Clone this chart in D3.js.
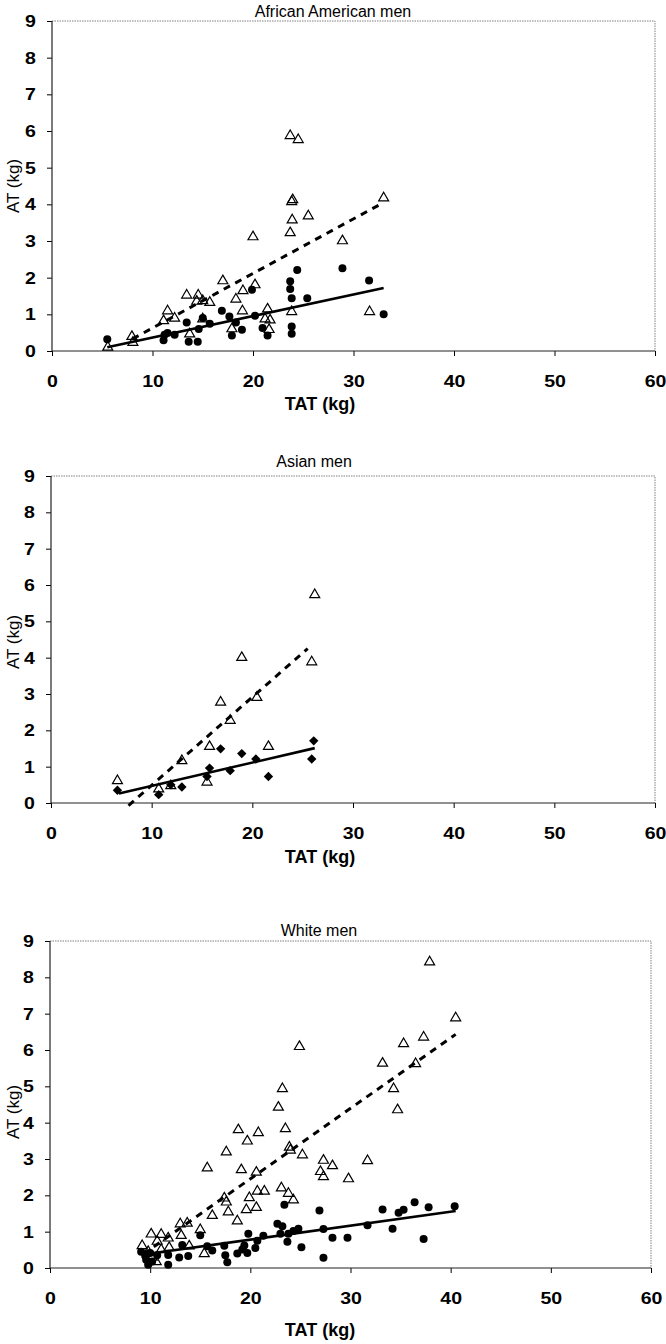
<!DOCTYPE html>
<html>
<head>
<meta charset="utf-8">
<script src="https://cdn.jsdelivr.net/npm/d3@7/dist/d3.min.js"></script>
<style>
  html, body { margin: 0; padding: 0; background: #fff; }
  svg { display: block; }
  text { font-family: "Liberation Sans", Arial, sans-serif; fill: #000; }
</style>
</head>
<body>
<svg id="chart" width="666" height="1344"></svg>
<script>
// ---------------- DATA ----------------
const panelTitles = ["African American men", "Asian men", "White men"];
const xTicks = [0, 10, 20, 30, 40, 50, 60];
const yTicks = [0, 1, 2, 3, 4, 5, 6, 7, 8, 9];
const xLabel = "TAT (kg)";
const yLabel = "AT (kg)";

// African American men: open triangles (dashed fit), filled circles (solid fit)
const aaOpen = [
  [5.55,0.13],[7.95,0.42],[8.05,0.26],[11.5,1.12],[11.1,0.85],[12.2,0.92],[13.4,1.55],
  [13.7,0.49],[14.55,1.55],[14.4,1.38],[15.0,1.40],[15.7,1.35],[15.0,0.90],[17.0,1.94],
  [17.9,0.63],[18.3,1.44],[19.0,1.67],[18.95,1.12],[20.2,1.83],[20.0,3.14],[21.2,0.90],
  [21.45,1.17],[21.7,0.87],[21.6,0.61],[23.85,1.10],[23.7,3.25],[23.9,3.60],[23.85,4.10],
  [23.95,4.15],[25.5,3.71],[28.9,3.03],[31.6,1.10],[23.7,5.90],[24.5,5.79],[33.0,4.20]
];
const aaFilled = [
  [5.5,0.32],[11.2,0.44],[11.1,0.29],[11.5,0.49],[12.2,0.44],[13.4,0.78],[13.6,0.25],
  [14.5,0.25],[14.6,0.60],[15.0,0.90],[15.7,0.74],[16.9,1.10],[17.65,0.94],[17.9,0.42],
  [18.3,0.78],[18.9,0.58],[19.9,1.67],[20.2,0.96],[20.95,0.63],[21.45,0.42],[23.7,1.90],
  [23.7,1.69],[23.85,1.44],[23.85,0.67],[23.85,0.47],[24.4,2.21],[25.4,1.44],[28.9,2.26],
  [31.55,1.92],[33.0,1.00]
];
const aaFitDashed = [[8.0,0.33],[33.0,4.05]];
const aaFitSolid = [[5.5,0.10],[33.0,1.72]];

// Asian men: open triangles (dashed fit), filled diamonds (solid fit)
const asOpen = [
  [6.6,0.64],[10.7,0.41],[11.9,0.50],[13.0,1.19],[15.5,0.60],[15.75,1.58],[16.85,2.80],
  [17.8,2.30],[18.95,4.03],[20.45,2.93],[21.6,1.58],[25.9,3.91],[26.2,5.76]
];
const asFilled = [
  [6.6,0.35],[10.7,0.23],[11.9,0.50],[13.0,0.44],[15.5,0.73],[15.75,0.96],[16.85,1.49],
  [17.8,0.89],[18.95,1.36],[20.35,1.21],[21.6,0.73],[25.9,1.21],[26.1,1.71]
];
const asFitDashed = [[7.7,-0.07],[25.5,4.25]];
const asFitSolid = [[6.75,0.26],[26.2,1.51]];

// White men: open triangles (dashed fit), filled circles (solid fit)
const whOpen = [
  [37.9,8.45],[40.5,6.91],[24.9,6.12],[37.3,6.38],[35.3,6.20],[33.2,5.66],[36.5,5.65],
  [23.2,4.96],[34.3,4.96],[22.8,4.45],[34.7,4.38],[18.8,3.83],[20.8,3.75],[23.5,3.86],
  [19.7,3.52],[23.9,3.35],[24.0,3.27],[17.6,3.22],[25.2,3.14],[15.7,2.78],[19.1,2.73],
  [20.6,2.66],[27.3,2.99],[28.2,2.84],[27.0,2.68],[27.3,2.54],[29.8,2.48],[31.7,2.98],
  [17.4,1.95],[17.6,1.84],[19.9,1.96],[20.7,2.14],[21.4,2.14],[23.1,2.23],[23.8,2.08],
  [24.3,1.90],[16.2,1.47],[17.8,1.57],[19.6,1.63],[20.6,1.69],[18.7,1.32],[13.0,1.24],
  [13.7,1.26],[15.0,1.08],[13.1,0.92],[10.1,0.96],[11.1,0.95],[11.8,0.85],[10.7,0.76],
  [9.2,0.64],[11.9,0.59],[13.9,0.63],[11.1,0.53],[15.4,0.42],[10.2,0.32],[10.6,0.20],
  [9.8,0.48]
];
const whFilled = [
  [9.1,0.45],[9.5,0.34],[10.0,0.41],[9.6,0.23],[10.2,0.18],[9.8,0.09],[10.7,0.35],
  [11.8,0.36],[11.8,0.09],[12.9,0.29],[13.2,0.63],[13.8,0.33],[15.0,0.90],[15.7,0.60],
  [16.2,0.48],[17.4,0.61],[17.5,0.35],[17.7,0.16],[18.7,0.40],[19.2,0.51],[19.7,0.41],
  [19.8,0.94],[19.4,0.62],[20.5,0.55],[20.7,0.75],[21.3,0.89],[22.7,1.22],[23.2,1.15],
  [23.0,0.94],[23.4,1.74],[23.8,0.94],[24.3,1.02],[23.7,0.72],[24.8,1.08],[25.1,0.57],
  [26.9,1.58],[27.3,1.07],[27.3,0.28],[28.2,0.83],[29.7,0.83],[31.7,1.18],[33.2,1.61],
  [34.2,1.08],[34.8,1.52],[35.3,1.60],[36.4,1.81],[37.8,1.67],[37.3,0.80],[40.4,1.70]
];
const whFitDashed = [[9.3,0.38],[40.5,6.43]];
const whFitSolid = [[9.3,0.37],[40.5,1.57]];

// ---------------- LAYOUT ----------------
const panels = [
  { title: panelTitles[0], open: aaOpen, filled: aaFilled, filledShape: "circle",
    dashed: aaFitDashed, solid: aaFitSolid,
    box: { l: 52, r: 655, t: 21, b: 351 }, titleX: 333, titleY: 17, ylabY: 186, xlabY: 410 },
  { title: panelTitles[1], open: asOpen, filled: asFilled, filledShape: "diamond",
    dashed: asFitDashed, solid: asFitSolid,
    box: { l: 51, r: 655, t: 476, b: 803 }, titleX: 314, titleY: 467, ylabY: 642, xlabY: 863 },
  { title: panelTitles[2], open: whOpen, filled: whFilled, filledShape: "circle",
    dashed: whFitDashed, solid: whFitSolid,
    box: { l: 50, r: 651, t: 941, b: 1268 }, titleX: 319, titleY: 936, ylabY: 1112, xlabY: 1336 }
];

const svg = d3.select("#chart");

const triangleType = {
  draw(ctx, size) {
    const w = 10, h = 8.6;
    ctx.moveTo(0, -h * 0.55);
    ctx.lineTo(w / 2, h * 0.45);
    ctx.lineTo(-w / 2, h * 0.45);
    ctx.closePath();
  }
};
const diamondType = {
  draw(ctx, size) {
    const a = 4.7;
    ctx.moveTo(0, -a);
    ctx.lineTo(a, 0);
    ctx.lineTo(0, a);
    ctx.lineTo(-a, 0);
    ctx.closePath();
  }
};

panels.forEach(p => {
  const { l, r, t, b } = p.box;
  const x = d3.scaleLinear().domain([0, 60]).range([l, r]);
  const y = d3.scaleLinear().domain([0, 9]).range([b, t]);
  const g = svg.append("g");

  // plot area border (top/right dotted gray)
  g.append("path")
    .attr("d", `M${l},${t}H${r}V${b}`)
    .attr("fill", "none").attr("stroke", "#808080").attr("stroke-width", 1)
    .attr("stroke-dasharray", "1.5,1");

  // x axis
  const xAxis = g.append("g").attr("transform", `translate(0,${b})`)
    .call(d3.axisBottom(x).tickValues(xTicks).tickSize(5).tickPadding(19).tickFormat(d3.format("d")));
  xAxis.select(".domain").remove();
  xAxis.selectAll(".tick line").attr("stroke", "#000");
  xAxis.selectAll(".tick text")
    .attr("font-family", "Liberation Sans, Arial, sans-serif")
    .attr("font-size", 17).attr("font-weight", "bold")
    .attr("transform", "scale(1.15,1)");
  g.append("line").attr("x1", l).attr("x2", r).attr("y1", b).attr("y2", b)
    .attr("stroke", "#222").attr("stroke-width", 1.2);

  // y axis
  const yAxis = g.append("g").attr("transform", `translate(${l},0)`)
    .call(d3.axisLeft(y).tickValues(yTicks).tickSize(5).tickPadding(9).tickFormat(d3.format("d")));
  yAxis.select(".domain").remove();
  yAxis.selectAll(".tick line").attr("stroke", "#000");
  yAxis.selectAll(".tick text")
    .attr("font-family", "Liberation Sans, Arial, sans-serif")
    .attr("font-size", 17).attr("font-weight", "bold")
    .attr("transform", "scale(1.15,1)");
  g.append("line").attr("x1", l).attr("x2", l).attr("y1", t).attr("y2", b)
    .attr("stroke", "#222").attr("stroke-width", 1.2);

  // title
  g.append("text").attr("x", p.titleX).attr("y", p.titleY)
    .attr("text-anchor", "middle").attr("font-size", 16).text(p.title);

  // axis titles
  g.append("text").attr("x", 320).attr("y", p.xlabY)
    .attr("text-anchor", "middle").attr("font-size", 18).attr("font-weight", "bold")
    .text(xLabel);
  g.append("text")
    .attr("transform", `translate(19,${p.ylabY}) rotate(-90)`)
    .attr("text-anchor", "middle").attr("font-size", 17)
    .text(yLabel);

  // filled markers
  if (p.filledShape === "circle") {
    g.append("g").selectAll("circle").data(p.filled).join("circle")
      .attr("cx", d => x(d[0])).attr("cy", d => y(d[1])).attr("r", 4)
      .attr("fill", "#000");
  } else {
    g.append("g").selectAll("path").data(p.filled).join("path")
      .attr("transform", d => `translate(${x(d[0])},${y(d[1])})`)
      .attr("d", d3.symbol().type(diamondType)())
      .attr("fill", "#000");
  }

  // open triangles
  g.append("g").selectAll("path").data(p.open).join("path")
    .attr("transform", d => `translate(${x(d[0])},${y(d[1])})`)
    .attr("d", d3.symbol().type(triangleType)())
    .attr("fill", "none").attr("stroke", "#000").attr("stroke-width", 1.2);

  // fit lines
  const line = d3.line().x(d => x(d[0])).y(d => y(d[1]));
  g.append("path").datum(p.dashed).attr("d", line)
    .attr("fill", "none").attr("stroke", "#000").attr("stroke-width", 3)
    .attr("stroke-dasharray", "7,6");
  g.append("path").datum(p.solid).attr("d", line)
    .attr("fill", "none").attr("stroke", "#000").attr("stroke-width", 2.6);
});
</script>
</body>
</html>
